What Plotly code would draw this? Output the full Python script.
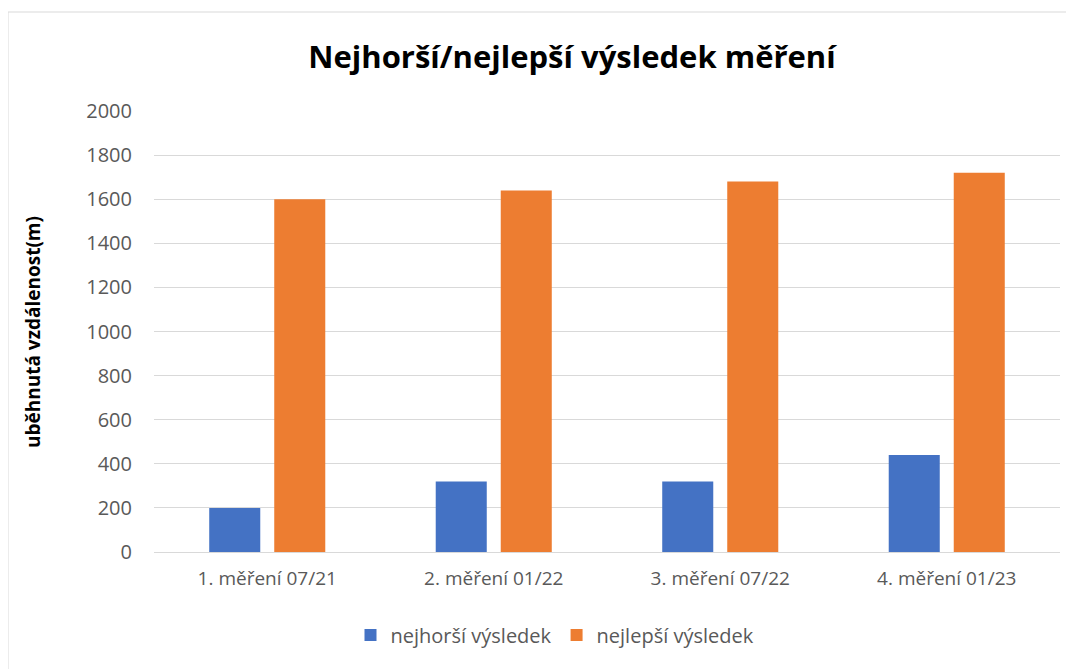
import plotly.graph_objects as go

categories = ['1. měření 07/21', '2. měření 01/22', '3. měření 07/22', '4. měření 01/23']
worst = [200, 320, 320, 440]
best = [1600, 1640, 1680, 1720]

FONT = 'Open Sans'
GREY = '#595959'

fig = go.Figure()
fig.add_trace(go.Bar(x=categories, y=worst, name='nejhorší výsledek',
                     marker=dict(color='#4472C4', line=dict(width=0))))
fig.add_trace(go.Bar(x=categories, y=best, name='nejlepší výsledek',
                     marker=dict(color='#ED7D31', line=dict(width=0))))

# page has an 8px body margin, so target screen pixels are shifted by OFF
OFF = 8
W, H = 1074, 669
# wanted plot area on screen: x 154..1060, y 111..552
L, T = 154 - OFF, 111 - OFF
R = (W + OFF) - 1060
B = (H + OFF) - 552
pw, ph = W - L - R, H - T - B

def px(x):
    return (x - OFF - L) / pw

def py(y):
    return (H - B - (y - OFF)) / ph

fig.update_layout(
    width=W, height=H,
    margin=dict(l=L, r=R, t=T, b=B),
    paper_bgcolor='white', plot_bgcolor='white',
    font=dict(family=FONT, color=GREY, size=18),
    barmode='group', bargap=0.426, bargroupgap=0.215,
    title=dict(text='<b>Nejhorší/nejlepší výsledek měření</b>',
               x=(572 - OFF) / W, xanchor='center', y=1 - (57 - OFF) / H, yanchor='middle',
               font=dict(family=FONT, size=31, color='black')),
    legend=dict(orientation='h', x=px(555), xanchor='center', y=py(635), yanchor='middle',
                font=dict(size=20, color=GREY), itemwidth=30, traceorder='normal'),
    xaxis=dict(showgrid=False, showline=True, linecolor='#d9d9d9', linewidth=1,
               ticks='', tickfont=dict(size=19, color=GREY), ticklabelstandoff=9),
    yaxis=dict(range=[0, 2000], dtick=200, showgrid=True, gridcolor='#d9d9d9', gridwidth=1,
               zeroline=False, ticks='', tickfont=dict(size=20, color=GREY),
               ticklabelstandoff=21),
    annotations=[dict(text='<b>uběhnutá vzdálenost(m)</b>', textangle=-90,
                      xref='paper', yref='paper', x=px(33), y=py(332),
                      xanchor='center', yanchor='middle', showarrow=False,
                      font=dict(family=FONT, size=19, color='black'))],
    shapes=[dict(type='rect', xref='paper', yref='paper',
                 x0=px(8), x1=px(1090), y0=py(690), y1=py(12),
                 line=dict(color='#d9d9d9', width=1), layer='below')],
)

fig.write_html('out.html')
